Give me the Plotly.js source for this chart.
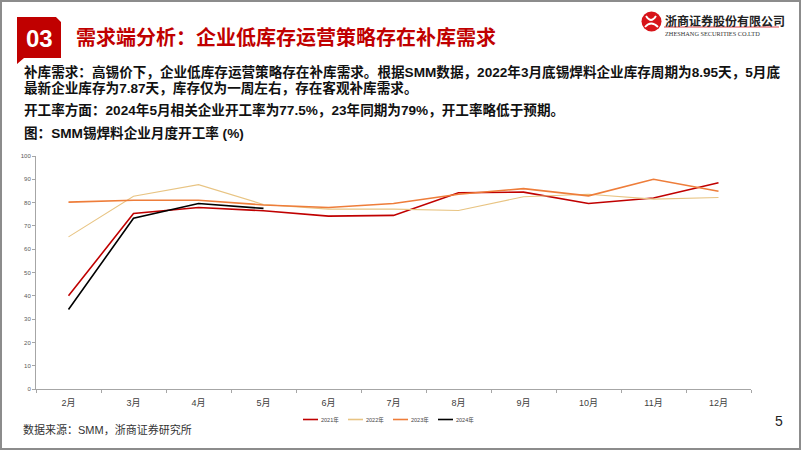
<!DOCTYPE html>
<html>
<head>
<meta charset="utf-8">
<script src="https://cdn.plot.ly/plotly-3.0.1.min.js"></script>
<style>
html,body{margin:0;padding:0;background:#fff;}
#chart{width:802px;height:451px;}
</style>
</head>
<body>
<div id="chart"></div>
<script>
// ---- data ----
var months = ['2月','3月','4月','5月','6月','7月','8月','9月','10月','11月','12月'];
var seriesNames = ['2021年','2022年','2023年','2024年'];
var v2021 = [40.0, 75.3, 77.9, 76.5, 74.2, 74.5, 84.2, 84.5, 79.6, 82.0, 88.5];
var v2022 = [65.3, 82.7, 87.7, 79.2, 77.2, 77.2, 76.6, 82.5, 83.6, 81.5, 82.2];
var v2023 = [80.2, 81.0, 81.0, 79.0, 77.9, 79.6, 83.6, 86.0, 82.9, 90.0, 84.9];
var v2024 = [34.1, 73.3, 79.6, 77.5];
var yTicks = [0,10,20,30,40,50,60,70,80,90,100];

var titleText = '需求端分析：企业低库存运营策略存在补库需求';
var para1a = '补库需求：高锡价下，企业低库存运营策略存在补库需求。根据SMM数据，2022年3月底锡焊料企业库存周期为8.95天，5月底';
var para1b = '最新企业库存为7.87天，库存仅为一周左右，存在客观补库需求。';
var para2 = '开工率方面：2024年5月相关企业开工率为77.5%，23年同期为79%，开工率略低于预期。';
var figTitle = '图：SMM锡焊料企业月度开工率 (%)';
var sourceText = '数据来源：SMM，浙商证券研究所';
var companyCN = '浙商证券股份有限公司';
var companyEN = 'ZHESHANG SECURITIES CO.LTD';

// ---- styles ----
var colors = ['#C00000', '#E8C483', '#EE7D3A', '#000000'];
var widths = [1.6, 1.1, 1.6, 1.6];
var W = 802, H = 451, ML = 36, MR = 51, MT = 156, MB = 62;
var PW = W - ML - MR, PH = H - MT - MB;
function px(x){ return (x - ML) / PW; }
function py(y){ return (H - MB - y) / PH; }
var FONT = 'Liberation Sans, Arial, Noto Sans CJK SC, sans-serif';

var allVals = [v2021, v2022, v2023, v2024];
var traces = allVals.map(function(v, i){
  return {
    type: 'scatter', mode: 'lines',
    x: months.slice(0, v.length), y: v,
    name: seriesNames[i],
    line: {color: colors[i], width: widths[i]},
    showlegend: false, hoverinfo: 'skip'
  };
});

var shapes = [];
var annotations = [];

// page frame
shapes.push({type:'rect', xref:'paper', yref:'paper', x0:px(1), x1:px(800), y0:py(449), y1:py(1),
  line:{color:'#8C8C8C', width:2}, fillcolor:'rgba(0,0,0,0)', layer:'below'});

// red "03" box with cut corner
function P(x,y){ return px(x).toFixed(5)+','+py(y).toFixed(5); }
shapes.push({type:'path', xref:'paper', yref:'paper',
  path:'M'+P(17,17)+' L'+P(56,17)+' L'+P(61,22)+' L'+P(61,58)+' L'+P(24,58)+' L'+P(17,64)+' Z',
  fillcolor:'#C00000', line:{width:0}});
annotations.push({xref:'paper', yref:'paper', x:px(39), y:py(38), text:'<b>03</b>', showarrow:false,
  xanchor:'center', yanchor:'middle', font:{family:FONT, size:24, color:'#ffffff'}});
annotations.push({xref:'paper', yref:'paper', x:px(74), y:py(37), text:'<b>'+titleText+'</b>', showarrow:false,
  xanchor:'left', yanchor:'middle', font:{family:'Noto Sans CJK SC, sans-serif', size:20, color:'#C00000'}});

// logo
shapes.push({type:'circle', xref:'paper', yref:'paper', x0:px(641.5), x1:px(661.5), y0:py(31.5), y1:py(11.5),
  fillcolor:'#D7141A', line:{width:0}});
shapes.push({type:'path', xref:'paper', yref:'paper',
  path:'M'+P(646,16)+' Q'+P(651,24)+' '+P(656,16)+' M'+P(645,27)+' Q'+P(651,20)+' '+P(658,27),
  line:{color:'#ffffff', width:1.8}});
annotations.push({xref:'paper', yref:'paper', x:px(663), y:py(20.5), text:'<b>'+companyCN+'</b>', showarrow:false,
  xanchor:'left', yanchor:'middle', font:{family:'Noto Sans CJK SC, sans-serif', size:12, color:'#222'}});
shapes.push({type:'line', xref:'paper', yref:'paper', x0:px(664), x1:px(779), y0:py(27), y1:py(27),
  line:{color:'#D7141A', width:0.8}});
annotations.push({xref:'paper', yref:'paper', x:px(663), y:py(33.5), text:companyEN, showarrow:false,
  xanchor:'left', yanchor:'middle', font:{family:'Liberation Serif, serif', size:6.3, color:'#333'}});

// paragraphs
var pFont = {family:FONT, size:13.6, color:'#111'};
[[para1a,72],[para1b,88],[para2,110],[figTitle,133]].forEach(function(p){
  annotations.push({xref:'paper', yref:'paper', x:px(22), y:py(p[1]), text:'<b>'+p[0]+'</b>', showarrow:false,
    xanchor:'left', yanchor:'middle', font:pFont});
});

// legend (manual, from series arrays)
var legX = [303, 348, 393, 438];
seriesNames.forEach(function(n, i){
  shapes.push({type:'line', xref:'paper', yref:'paper', x0:px(legX[i]), x1:px(legX[i]+15), y0:py(419.5), y1:py(419.5),
    line:{color:colors[i], width:1.6}});
  annotations.push({xref:'paper', yref:'paper', x:px(legX[i]+16), y:py(419.5), text:n, showarrow:false,
    xanchor:'left', yanchor:'middle', font:{family:FONT, size:5.5, color:'#444'}});
});

// source & page number
annotations.push({xref:'paper', yref:'paper', x:px(21), y:py(429), text:sourceText, showarrow:false,
  xanchor:'left', yanchor:'middle', font:{family:FONT, size:11, color:'#333'}});
annotations.push({xref:'paper', yref:'paper', x:px(779), y:py(421), text:'5', showarrow:false,
  xanchor:'center', yanchor:'middle', font:{family:FONT, size:14, color:'#222'}});

var layout = {
  width: W, height: H,
  margin: {l: ML, r: MR, t: MT, b: MB, pad: 0},
  paper_bgcolor: '#ffffff', plot_bgcolor: '#ffffff',
  showlegend: false,
  xaxis: {
    type: 'category', categoryorder: 'array', categoryarray: months,
    range: [-0.5, months.length - 0.5],
    showgrid: false, zeroline: false,
    showline: true, linecolor: '#A6A6A6', linewidth: 1,
    ticks: 'outside', tickson: 'boundaries', ticklen: 3, tickcolor: '#A6A6A6',
    ticklabelstandoff: 5,
    tickfont: {family: FONT, size: 9, color: '#404040'},
    fixedrange: true
  },
  yaxis: {
    range: [0, 100], tickvals: yTicks, ticktext: yTicks.map(String),
    showgrid: false, zeroline: false,
    showline: true, linecolor: '#A6A6A6', linewidth: 1,
    ticks: 'outside', ticklen: 3, tickcolor: '#A6A6A6',
    tickfont: {family: FONT, size: 6, color: '#595959'},
    fixedrange: true
  },
  shapes: shapes,
  annotations: annotations
};

Plotly.newPlot('chart', traces, layout, {staticPlot: true, displayModeBar: false});
</script>
</body>
</html>
